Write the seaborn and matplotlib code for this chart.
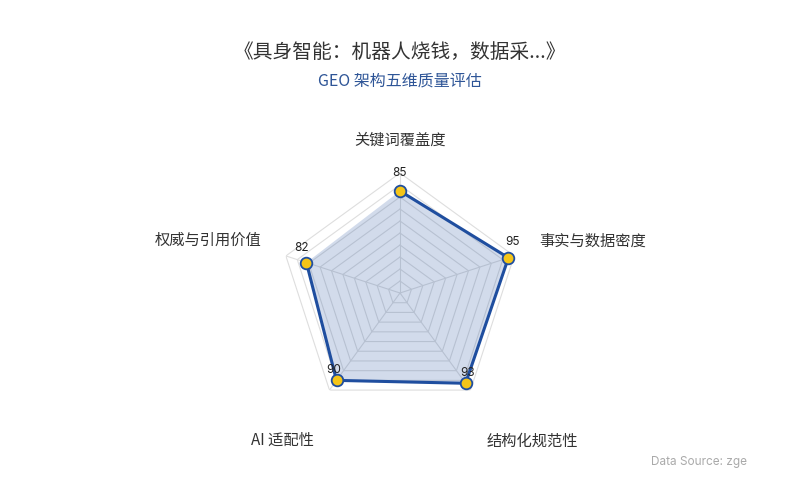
import numpy as np
import pandas as pd
import seaborn as sns
import matplotlib.pyplot as plt

# data
dimensions = ["关键词覆盖度", "事实与数据密度", "结构化规范性", "AI 适配性", "权威与引用价值"]
scores = [85, 95, 93, 90, 82]
title = "《具身智能：机器人烧钱，数据采...》"
subtitle = "GEO 架构五维质量评估"
source = "Data Source: zge"

sns.set_theme(style="white")
plt.rcParams["font.family"] = ["Noto Sans CJK SC", "DejaVu Sans"]

LINE = "#1f4e9f"
MARK = "#f5c518"
GRID = "#dedede"

n = len(dimensions)
theta = np.linspace(0, 2 * np.pi, n, endpoint=False)
df = pd.DataFrame({
    "theta": np.append(theta, theta[0]),
    "score": scores + scores[:1],
})

fig = plt.figure(figsize=(8, 5), dpi=100)
ax = fig.add_axes([0.35, 0.174, 0.3, 0.48], projection="polar")
ax.set_theta_offset(np.pi / 2)
ax.set_theta_direction(-1)
ax.set_ylim(0, 100)
ax.grid(False)
ax.spines["polar"].set_visible(False)
ax.set_xticks([])
ax.set_yticks([])
ax.set_facecolor("none")

# pentagon grid rings and spokes
for lvl in range(10, 101, 10):
    ax.plot(np.append(theta, theta[0]), [lvl] * (n + 1), color=GRID, lw=0.8, zorder=1)
for t in theta:
    ax.plot([t, t], [0, 100], color=GRID, lw=0.8, zorder=1)

ax.fill(df["theta"], df["score"], color=LINE, alpha=0.2, lw=0, zorder=2)
sns.lineplot(data=df, x="theta", y="score", sort=False, color=LINE, lw=2.2,
             ax=ax, zorder=3)
sns.scatterplot(x=theta, y=scores, s=70, color=MARK, edgecolor=LINE,
                linewidth=1.3, ax=ax, zorder=4, clip_on=False)
ax.set_xlabel("")
ax.set_ylabel("")

# value labels (pixel offsets from each point)
val_off = [(0, 18), (4, 16), (2, 10), (-3, 10), (-5, 15)]
for t, v, off in zip(theta, scores, val_off):
    ax.annotate(str(v), xy=(t, v), xytext=off, textcoords="offset pixels",
                ha="center", va="center", fontsize=8.5, color="#222222",
                family=["Inter", "DejaVu Sans"], zorder=5)

# axis names
name_off = [((0, 33), "center"), ((25, 15), "left"), ((16, -51), "left"),
            ((-16, -50), "right"), ((-24, 16), "right")]
for t, name, (off, ha) in zip(theta, dimensions, name_off):
    ax.annotate(name, xy=(t, 100), xytext=off, textcoords="offset pixels",
                ha=ha, va="center", fontsize=11, color="#333333")

fig.text(0.5, 1 - 52 / 500, title, ha="center", va="center",
         fontsize=14.2, color="#333333")
fig.text(0.5, 1 - 81 / 500, subtitle, ha="center", va="center",
         fontsize=11.5, color="#2e5597")
fig.text(651 / 800, 1 - 462 / 500, source, ha="left", va="center",
         fontsize=8.5, color="#aaaaaa", family=["Inter", "DejaVu Sans"])

fig.savefig("out.png", dpi=100, facecolor="white")
